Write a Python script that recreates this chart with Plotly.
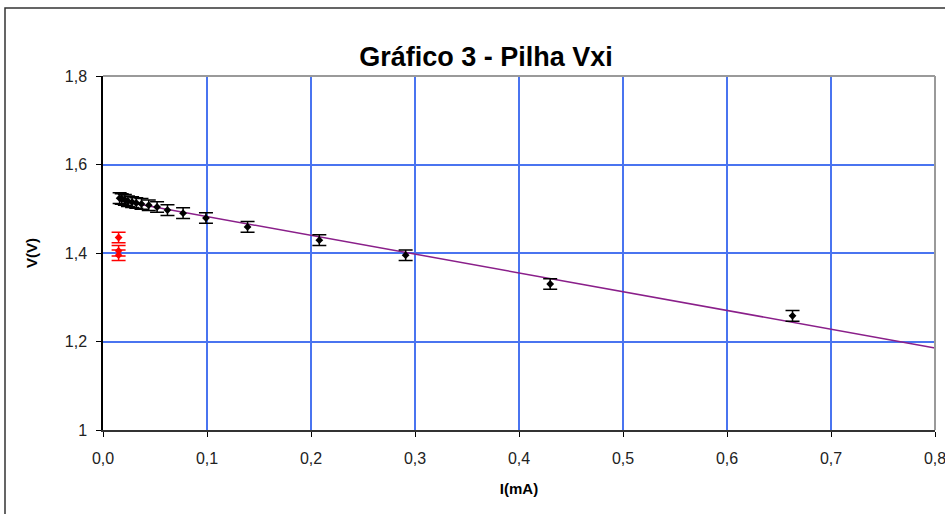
import numpy as np
import plotly.graph_objects as go

# Data
I_black = [0.016, 0.018, 0.021, 0.024, 0.028, 0.032, 0.037, 0.044, 0.052, 0.062,
           0.077, 0.099, 0.139, 0.208, 0.291, 0.430, 0.663]
V_black = [1.524, 1.522, 1.520, 1.517, 1.515, 1.513, 1.511, 1.508, 1.504, 1.497,
           1.490, 1.479, 1.459, 1.429, 1.395, 1.330, 1.258]
err_black = 0.012

I_red = [0.015, 0.015, 0.015]
V_red = [1.435, 1.405, 1.395]
err_red = 0.012

x_ticks = [0.0, 0.1, 0.2, 0.3, 0.4, 0.5, 0.6, 0.7, 0.8]
x_ticklabels = ["0,0", "0,1", "0,2", "0,3", "0,4", "0,5", "0,6", "0,7", "0,8"]
y_ticks = [1.0, 1.2, 1.4, 1.6, 1.8]
y_ticklabels = ["1", "1,2", "1,4", "1,6", "1,8"]

# linear trend of black points
slope, intercept = np.polyfit(I_black, V_black, 1)
tx = np.array([0.015, 0.8])
ty = slope * tx + intercept

fig = go.Figure()
fig.add_trace(go.Scatter(x=tx, y=ty, mode="lines",
                         line=dict(color="#8a1f8a", width=1.5), showlegend=False,
                         hoverinfo="skip"))
fig.add_trace(go.Scatter(x=I_black, y=V_black, mode="markers",
                         marker=dict(symbol="diamond", size=6, color="black"),
                         error_y=dict(type="constant", value=err_black, color="black",
                                      thickness=1.5, width=7),
                         showlegend=False))
fig.add_trace(go.Scatter(x=I_red, y=V_red, mode="markers",
                         marker=dict(symbol="diamond", size=6, color="#ff0000"),
                         error_y=dict(type="constant", value=err_red, color="#ff0000",
                                      thickness=1.5, width=7),
                         showlegend=False))

grid = "#4a74f0"
fig.update_layout(
    width=945, height=514,
    margin=dict(l=103, r=10, t=76, b=84),
    paper_bgcolor="white", plot_bgcolor="white",
    font=dict(family="Liberation Sans, Arial, sans-serif", color="black"),
    title=dict(text="<b>Gráfico 3 - Pilha Vxi</b>", x=486 / 945, xanchor="center",
               y=1 - 57 / 514, yanchor="middle", font=dict(size=27)),
    xaxis=dict(range=[0, 0.8], tickvals=x_ticks, ticktext=x_ticklabels,
               automargin=False, ticklabeloverflow="allow",
               showgrid=True, gridcolor=grid, gridwidth=1.5,
               showline=True, linecolor="#333333", linewidth=2, mirror=False,
               ticks="outside", ticklen=5, tickcolor="black",
               tickfont=dict(size=16, color="#222222"), zeroline=False,
               ticklabelstandoff=8,
               title=dict(text="<b>I(mA)</b>", font=dict(size=15), standoff=17)),
    yaxis=dict(range=[1.0, 1.8], tickvals=y_ticks, ticktext=y_ticklabels,
               automargin=False,
               showgrid=True, gridcolor=grid, gridwidth=1.5,
               showline=True, linecolor="black", linewidth=1.5,
               ticks="outside", ticklen=5, tickcolor="black",
               tickfont=dict(size=16, color="#222222"), zeroline=False,
               ticklabelstandoff=6,
               title=dict(text="<b>V(V)</b>", font=dict(size=15), standoff=24)),
    shapes=[
        # plot area frame top/right (gray)
        dict(type="line", xref="paper", yref="paper", x0=0, x1=1, y0=1, y1=1,
             line=dict(color="#9a9a9a", width=2)),
        dict(type="line", xref="paper", yref="paper", x0=1, x1=1, y0=0, y1=1,
             line=dict(color="#9a9a9a", width=2)),
        # outer chart border
        dict(type="rect", xref="paper", yref="paper",
             x0=(5 - 103) / 832, x1=1.2, y0=-0.4, y1=(430 - 8) / 354,
             line=dict(color="#333333", width=1.5), layer="below"),
    ],
)

fig.write_html("out.html")
